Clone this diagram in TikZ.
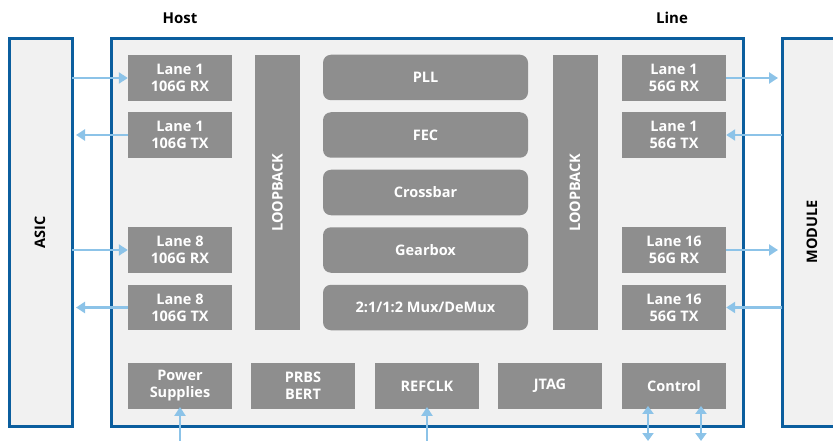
\documentclass[tikz,border=0pt]{standalone}
\usepackage{fontspec}
\setmainfont{Open Sans}
\usetikzlibrary{arrows.meta}
\definecolor{frame}{HTML}{0B5E9E}
\definecolor{panel}{HTML}{F1F1F1}
\definecolor{blk}{HTML}{8E8E8E}
\definecolor{wire}{HTML}{8CC3E8}
\tikzset{
  outer/.style={draw=frame, line width=3pt, fill=panel},
  blkbox/.style={fill=blk, text=white, font=\fontsize{14.5}{17}\selectfont\bfseries, align=center, inner sep=0pt, minimum width=104pt, minimum height=45.5pt},
  rblk/.style={blkbox, rounded corners=8pt, minimum width=205pt},
  loopbox/.style={fill=blk, inner sep=0pt, minimum width=45pt, minimum height=275pt},
  vlabel/.style={text=white, font=\fontsize{14.5}{17}\selectfont\bfseries, rotate=90},
  sidelabel/.style={text=black, font=\fontsize{14.5}{17}\selectfont\bfseries, rotate=90},
  toplabel/.style={text=black, font=\fontsize{15}{17}\selectfont\bfseries},
  wirearrow/.style={draw=wire, line width=2.6pt, -{Triangle[length=9pt,width=11pt]}},
  wiredouble/.style={draw=wire, line width=2.6pt, {Triangle[length=8pt,width=11pt]}-{Triangle[length=8pt,width=11pt]}}
}
\begin{document}
\begin{tikzpicture}[x=1pt, y=-1pt]
\useasboundingbox (0,0) rectangle (833,441);
% outer frames
\begin{scope}
\clip (0,0) rectangle (833,441);
\draw[outer] (9,39) rectangle (72,426);
\draw[outer] (111,39) rectangle (743,426);
\draw[outer] (782,39) rectangle (850,426);
\end{scope}
\coordinate (asicE) at (72,232);
\coordinate (modW) at (782,232);
\node[sidelabel] (asic) at (40,232) {ASIC};
\node[sidelabel] (module) at (812,232) {MODULE};
\node[toplabel] (host) at (180,18) {Host};
\node[toplabel] (line) at (672,18) {Line};
% host lanes
\node[blkbox] (l1rx) at (180,78) {Lane 1\\106G RX};
\node[blkbox] (l1tx) at (180,135) {Lane 1\\106G TX};
\node[blkbox] (l8rx) at (180,250) {Lane 8\\106G RX};
\node[blkbox] (l8tx) at (180,307.5) {Lane 8\\106G TX};
% line lanes
\node[blkbox] (r1rx) at (674,78) {Lane 1\\56G RX};
\node[blkbox] (r1tx) at (674,135) {Lane 1\\56G TX};
\node[blkbox] (r16rx) at (674,250) {Lane 16\\56G RX};
\node[blkbox] (r16tx) at (674,307.5) {Lane 16\\56G TX};
% loopbacks
\node[loopbox] (lbl) at (277.5,192.5) {};
\node[vlabel] (lbltext) at (277.5,192.5) {LOOPBACK};
\node[loopbox] (lbr) at (575,192.5) {};
\node[vlabel] (lbrtext) at (575,192.5) {LOOPBACK};
% center blocks
\node[rblk] (pll) at (425.5,77.5) {PLL};
\node[rblk] (fec) at (425.5,135) {FEC};
\node[rblk] (xbar) at (425.5,192.5) {Crossbar};
\node[rblk] (gbox) at (425.5,250) {Gearbox};
\node[rblk] (mux) at (425.5,307.5) {2:1/1:2 Mux/DeMux};
% bottom blocks
\node[blkbox] (pwr) at (180,386) {Power\\Supplies};
\node[blkbox] (prbs) at (303,386) {PRBS\\BERT};
\node[blkbox] (refclk) at (427,386) {REFCLK};
\node[blkbox] (jtag) at (550,386) {JTAG};
\node[blkbox] (ctrl) at (674,386) {Control};
% lane connectors
\draw[wirearrow] (asicE |- l1rx) -- (l1rx.west);
\draw[wirearrow] (l1tx.west) -- ([xshift=4pt]asicE |- l1tx);
\draw[wirearrow] (asicE |- l8rx) -- (l8rx.west);
\draw[wirearrow] (l8tx.west) -- ([xshift=4pt]asicE |- l8tx);
\draw[wirearrow] (r1rx.east) -- ([xshift=-4pt]modW |- r1rx);
\draw[wirearrow] (modW |- r1tx) -- (r1tx.east);
\draw[wirearrow] (r16rx.east) -- ([xshift=-4pt]modW |- r16rx);
\draw[wirearrow] (modW |- r16tx) -- (r16tx.east);
% bottom pins
\coordinate (pinpwr) at (180,442);
\coordinate (pinref) at (427,442);
\coordinate (pinc1) at (648,441);
\coordinate (pinc2) at (701,441);
\coordinate (ctrlb) at ([yshift=3pt]ctrl.south);
\draw[wirearrow] (pinpwr) -- ([yshift=2pt]pwr.south);
\draw[wirearrow] (pinref) -- ([yshift=2pt]refclk.south);
\draw[wiredouble] (pinc1) -- (pinc1 |- ctrlb);
\draw[wiredouble] (pinc2) -- (pinc2 |- ctrlb);
\end{tikzpicture}
\end{document}
